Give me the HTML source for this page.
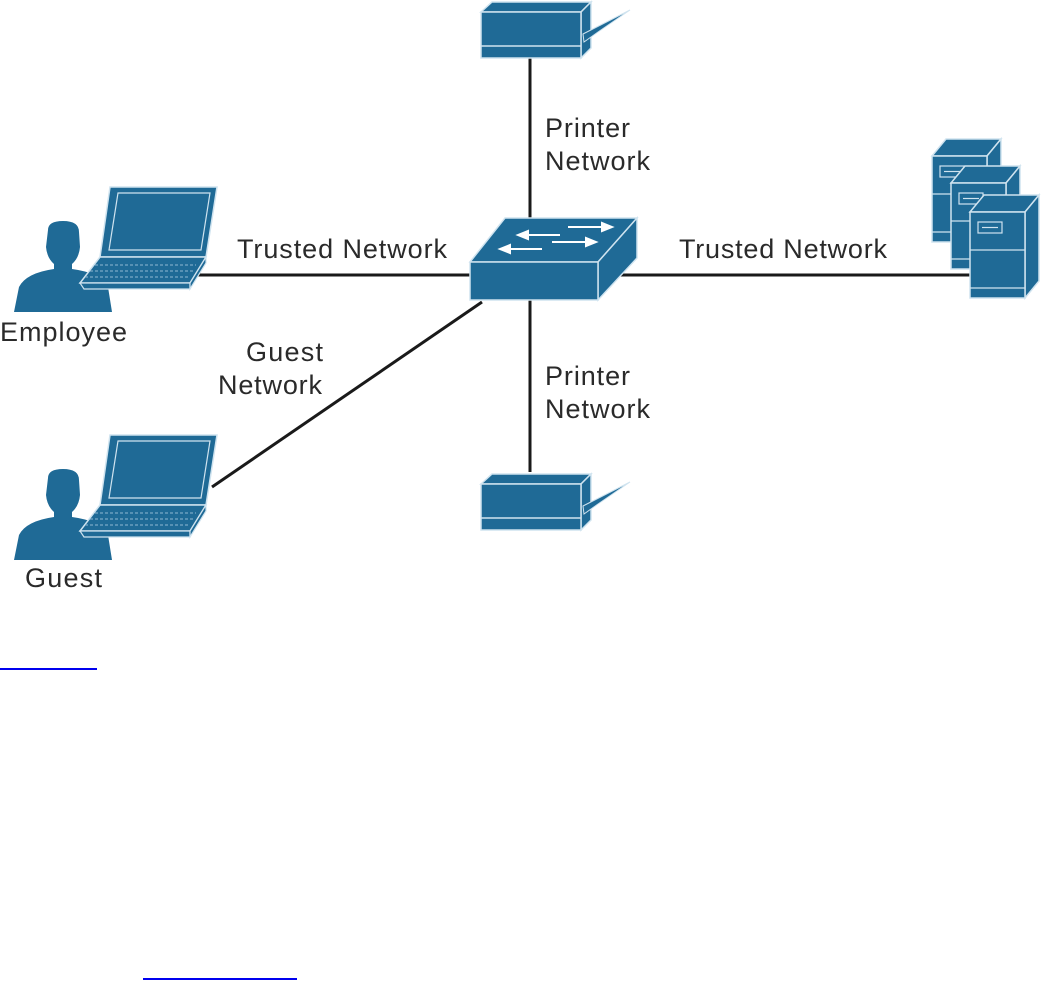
<!DOCTYPE html>
<html><head><style>
html,body{margin:0;padding:0;background:#fff;}
svg{display:block}
text{font-family:"Liberation Sans",sans-serif;font-size:27px;fill:#2a2a2a}
</style></head><body>
<svg width="1045" height="981" viewBox="0 0 1045 981">
<defs>
<g id="printer">
  <polygon points="481,12 492,2 591,2 581,12" fill="#1f6a96" stroke="#cfe3ef" stroke-width="1.5"/>
  <polygon points="581,12 591,2 591,48 581,58" fill="#1f6a96" stroke="#cfe3ef" stroke-width="1.5"/>
  <rect x="481" y="12" width="100" height="46" fill="#1f6a96" stroke="#cfe3ef" stroke-width="1.5"/>
  <line x1="481" y1="46" x2="581" y2="46" stroke="#cfe3ef" stroke-width="1.5"/>
  <polygon points="583,34 630,10 598,32 584,42" fill="#1f6a96" stroke="#cfe3ef" stroke-width="1"/>
</g>
<g id="person">
  <path d="M48,230 Q48,221 63,221 Q79,221 79,232 L80,247 Q79,258 72,264 L72,269 Q102,273 108,287 L112,312 L14,312 L19,287 Q26,273 54,269 L54,264 Q47,258 46,247 Z" fill="#1f6a96"/>
  <polygon points="110,187 217,187 206,257 100,257" fill="#1f6a96" stroke="#cfe3ef" stroke-width="1.5"/>
  <polygon points="118,193 210,193 201,250 109,250" fill="none" stroke="#cfe3ef" stroke-width="1.2"/>
  <polygon points="100,257 206,257 190,283 80,283" fill="#1f6a96" stroke="#cfe3ef" stroke-width="1.5"/>
  <path d="M95,265 L196,265 M90,271 L193,271 M85,277 L190,277" stroke="#8fb8d2" stroke-width="1" stroke-dasharray="3,2"/>
  <polygon points="80,283 190,283 190,289 84,289" fill="#1f6a96" stroke="#cfe3ef" stroke-width="1.2"/>
  <polygon points="190,283 206,257 206,263 190,289" fill="#1f6a96" stroke="#cfe3ef" stroke-width="1.2"/>
</g>
<g id="server">
  <polygon points="0,17 14,0 69,0 55,17" fill="#1f6a96" stroke="#cfe3ef" stroke-width="1.5"/>
  <polygon points="55,17 69,0 69,86 55,103" fill="#1f6a96" stroke="#cfe3ef" stroke-width="1.5"/>
  <rect x="0" y="17" width="55" height="86" fill="#1f6a96" stroke="#cfe3ef" stroke-width="1.5"/>
  <rect x="8" y="27" width="24" height="11" fill="none" stroke="#cfe3ef" stroke-width="1.2"/>
  <line x1="12" y1="32.5" x2="28" y2="32.5" stroke="#cfe3ef" stroke-width="1.2"/>
  <line x1="0" y1="55" x2="55" y2="55" stroke="#cfe3ef" stroke-width="1.2"/>
  <line x1="0" y1="93" x2="55" y2="93" stroke="#cfe3ef" stroke-width="1.2"/>
</g>
</defs>
<g stroke="#1a1a1a" stroke-width="3">
  <line x1="530" y1="58" x2="530" y2="220"/>
  <line x1="530" y1="298" x2="530" y2="472"/>
  <line x1="195" y1="275" x2="472" y2="275"/>
  <line x1="598" y1="275" x2="975" y2="275"/>
  <line x1="482" y1="302" x2="212" y2="487"/>
</g>
<use href="#printer"/>
<use href="#printer" transform="translate(0,472)"/>
<polygon points="470,262 505,218 637,218 598,262" fill="#1f6a96" stroke="#cfe3ef" stroke-width="1.5"/>
<polygon points="598,262 637,218 637,258 598,300" fill="#1f6a96" stroke="#cfe3ef" stroke-width="1.5"/>
<rect x="470" y="262" width="128" height="38" fill="#1f6a96" stroke="#cfe3ef" stroke-width="1.5"/>
<g stroke="#fff" stroke-width="2" fill="#fff">
  <line x1="568" y1="227" x2="605" y2="227"/><polygon points="612,227 602,223 602,231"/>
  <line x1="525" y1="235" x2="560" y2="235"/><polygon points="518,235 528,231 528,239"/>
  <line x1="552" y1="242" x2="588" y2="242"/><polygon points="596,242 586,238 586,246"/>
  <line x1="508" y1="249" x2="542" y2="249"/><polygon points="500,249 510,245 510,253"/>
</g>
<use href="#person"/>
<use href="#person" transform="translate(0,248)"/>
<use href="#server" transform="translate(932,139)"/>
<use href="#server" transform="translate(951,166)"/>
<use href="#server" transform="translate(970,195)"/>
<text x="545" y="137" textLength="85">Printer</text>
<text x="545" y="170" textLength="105">Network</text>
<text x="545" y="385" textLength="85">Printer</text>
<text x="545" y="418" textLength="105">Network</text>
<text x="237" y="258" textLength="210">Trusted Network</text>
<text x="679" y="258" textLength="208">Trusted Network</text>
<text x="246" y="361" textLength="77">Guest</text>
<text x="218" y="394" textLength="104">Network</text>
<text x="0" y="341" textLength="127">Employee</text>
<text x="25" y="587" textLength="77">Guest</text>
<rect x="0" y="668" width="97" height="2" fill="#0000ee"/>
<rect x="143" y="978" width="154" height="2" fill="#0000ee"/>
</svg>
</body></html>
